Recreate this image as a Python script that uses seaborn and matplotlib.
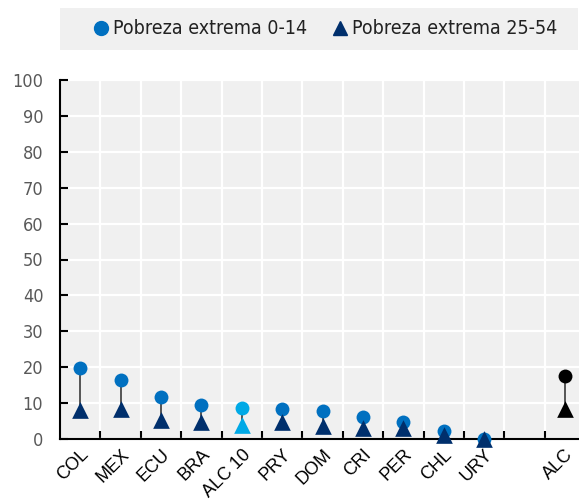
import pandas as pd
import numpy as np
import matplotlib
matplotlib.use("Agg")
import matplotlib.pyplot as plt
from matplotlib.patches import Rectangle
from matplotlib.lines import Line2D
import seaborn as sns

# data
paises = ['COL', 'MEX', 'ECU', 'BRA', 'ALC 10', 'PRY', 'DOM', 'CRI', 'PER', 'CHL', 'URY', '', 'ALC']
pobreza_0_14 = [19.8, 16.3, 11.8, 9.5, 8.7, 8.4, 7.9, 6.0, 4.8, 2.3, 0.1, np.nan, 17.5]
pobreza_25_54 = [8.1, 8.3, 5.2, 4.6, 4.0, 4.6, 3.5, 3.2, 3.0, 1.1, 0.0, np.nan, 8.3]

azul = '#0070C0'
marino = '#002F6C'
celeste = '#00A9E6'
colores_circ = {p: azul for p in paises}
colores_tri = {p: marino for p in paises}
colores_circ['ALC 10'] = celeste
colores_tri['ALC 10'] = celeste
colores_circ['ALC'] = 'black'
colores_tri['ALC'] = 'black'

df = pd.DataFrame({'Pais': paises, 'Nino': pobreza_0_14, 'Adulto': pobreza_25_54})

sns.set_style('white')
plt.rcParams['font.family'] = ['DejaVu Sans']
plt.rcParams['font.stretch'] = 'condensed'

fig = plt.figure(figsize=(5.79, 4.99), dpi=100)
ax = fig.add_axes([60 / 579, 1 - 439 / 499, 1 - 60 / 579, (439 - 80) / 499])
ax.set_facecolor('#F0F0F0')

# lineas entre los dos puntos
pos = [paises.index(p) for p in df.Pais]
ax.vlines(pos, df.Adulto, df.Nino, color='#3A3A3A', lw=1.2, zorder=2)

sns.stripplot(data=df, x='Pais', y='Nino', order=paises, hue='Pais', palette=colores_circ,
              marker='o', size=10, jitter=False, legend=False, ax=ax, zorder=3, clip_on=False)
sns.stripplot(data=df, x='Pais', y='Adulto', order=paises, hue='Pais', palette=colores_tri,
              marker='^', size=12, jitter=False, legend=False, ax=ax, zorder=4, clip_on=False)

ax.set_xlim(-0.5, 12.35)
ax.set_ylim(0, 100)
ax.set_yticks(range(0, 101, 10))
ax.set_xticks(range(len(paises)))
ax.set_xticks(np.arange(0.5, 12, 1), minor=True)
ax.set_xticklabels(paises, rotation=45, ha='right', rotation_mode='anchor',
                   fontsize=13, family='Liberation Sans', fontstretch='normal')
ax.set_xlabel('')
ax.set_ylabel('')

ax.grid(True, axis='y', color='white', lw=1.6)
ax.grid(True, axis='x', which='minor', color='white', lw=1.6)
ax.grid(False, axis='x', which='major')
ax.set_axisbelow(True)

for s in ['top', 'right']:
    ax.spines[s].set_visible(False)
for s in ['left', 'bottom']:
    ax.spines[s].set_color('black')
    ax.spines[s].set_linewidth(1.5)

ax.tick_params(axis='y', direction='in', length=6, width=1.5, color='black',
               labelsize=13, labelcolor='#595959', pad=12, left=True)
ax.tick_params(axis='x', which='major', length=0, pad=5, labelcolor='black')
ax.tick_params(axis='x', which='minor', direction='in', length=6, width=1.5, color='black', bottom=True)

# leyenda en caja gris
fig.patches.append(Rectangle((60 / 579, 1 - 50 / 499), 1 - 61 / 579, 42 / 499,
                             transform=fig.transFigure, facecolor='#F0F0F0', edgecolor='none'))
handles = [Line2D([], [], marker='o', color=azul, ls='', markersize=10),
           Line2D([], [], marker='^', color=marino, ls='', markersize=10)]
fig.legend(handles, ['Pobreza extrema 0-14', 'Pobreza extrema 25-54'], ncol=2, frameon=False,
           loc='center', bbox_to_anchor=(326 / 579, 1 - 29 / 499), fontsize=14,
           handlelength=0.6, handletextpad=0.3, columnspacing=1.4, labelcolor='#222222')

plt.savefig('out.png', dpi=100)
